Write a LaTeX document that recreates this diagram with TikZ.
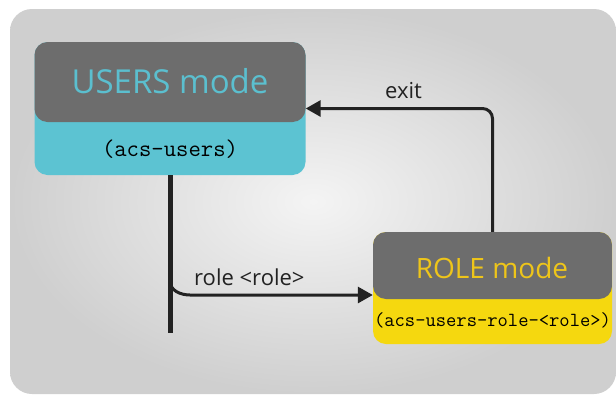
\documentclass[tikz,border=0pt]{standalone}
\usepackage{fontspec}
\setmainfont{Open Sans}
\usetikzlibrary{arrows.meta}
\definecolor{boxgray}{HTML}{6D6D6D}
\definecolor{cyanfill}{HTML}{5CC3D2}
\definecolor{cyantext}{HTML}{5BBFCF}
\definecolor{yellowfill}{HTML}{F5D80F}
\definecolor{yellowtext}{HTML}{EEC51A}
\definecolor{linedark}{HTML}{222222}
\definecolor{bglight}{HTML}{F4F4F4}
\definecolor{bgdark}{HTML}{CFCFCF}
\tikzset{
  modebox/.style={rectangle, rounded corners=13pt, inner sep=0pt},
  conn/.style={draw=linedark, line width=3pt, rounded corners=10pt},
  arr/.style={-{Triangle[length=15pt,width=16pt]}},
  lbl/.style={font=\fontsize{22}{25}\selectfont, text=linedark, inner sep=0pt, anchor=base west},
}
\begin{document}
\begin{tikzpicture}[x=1pt,y=-1pt]
\useasboundingbox (0,0) rectangle (616,394);
\fill[white] (0,0) rectangle (616,394);
\shade[inner color=bglight, outer color=bgdark, rounded corners=22pt] (10,9) rectangle (616,394);
% USERS box
\node[modebox, minimum width=271pt, minimum height=133pt, fill=cyanfill,
  path picture={\fill[boxgray] ([yshift=2pt]path picture bounding box.north west) rectangle ([yshift=-80pt]path picture bounding box.north east);}]
  (users) at (170,108.5) {};
\node[text=cyantext, font=\fontsize{33}{36}\selectfont, inner sep=0pt] (userst) at (170,81) {USERS mode};
\node[text=black, font=\ttfamily\fontsize{24}{27}\selectfont, inner sep=0pt] (userss) at (170,149) {(acs-users)};
% ROLE box
\node[modebox, minimum width=239pt, minimum height=112pt, fill=yellowfill,
  path picture={\fill[boxgray] ([yshift=2pt]path picture bounding box.north west) rectangle ([yshift=-67pt]path picture bounding box.north east);}]
  (role) at (492.5,288) {};
\node[text=yellowtext, font=\fontsize{28}{32}\selectfont, inner sep=0pt] (rolet) at (492,268) {ROLE mode};
\node[text=black, font=\ttfamily\fontsize{20}{23}\selectfont, inner sep=0pt] (roles) at (492.5,320) {(acs-users-role-<role>)};
% connectors
\coordinate (uend) at (170,333);
\coordinate (br) at (170,281);
\coordinate (hy) at (0,295);
\draw[draw=linedark, line width=5pt] (users.south) -- (uend);
\draw[conn, arr, rounded corners=0pt] (br) to[out=-90,in=180] (190,295) -- (role.west |- hy);
\draw[conn, arr] (role.north) |- (users.east);
% labels
\node[lbl] (exitl) at (385,98) {exit};
\node[lbl] (rolel) at (194,285) {role <role>};
\end{tikzpicture}
\end{document}
